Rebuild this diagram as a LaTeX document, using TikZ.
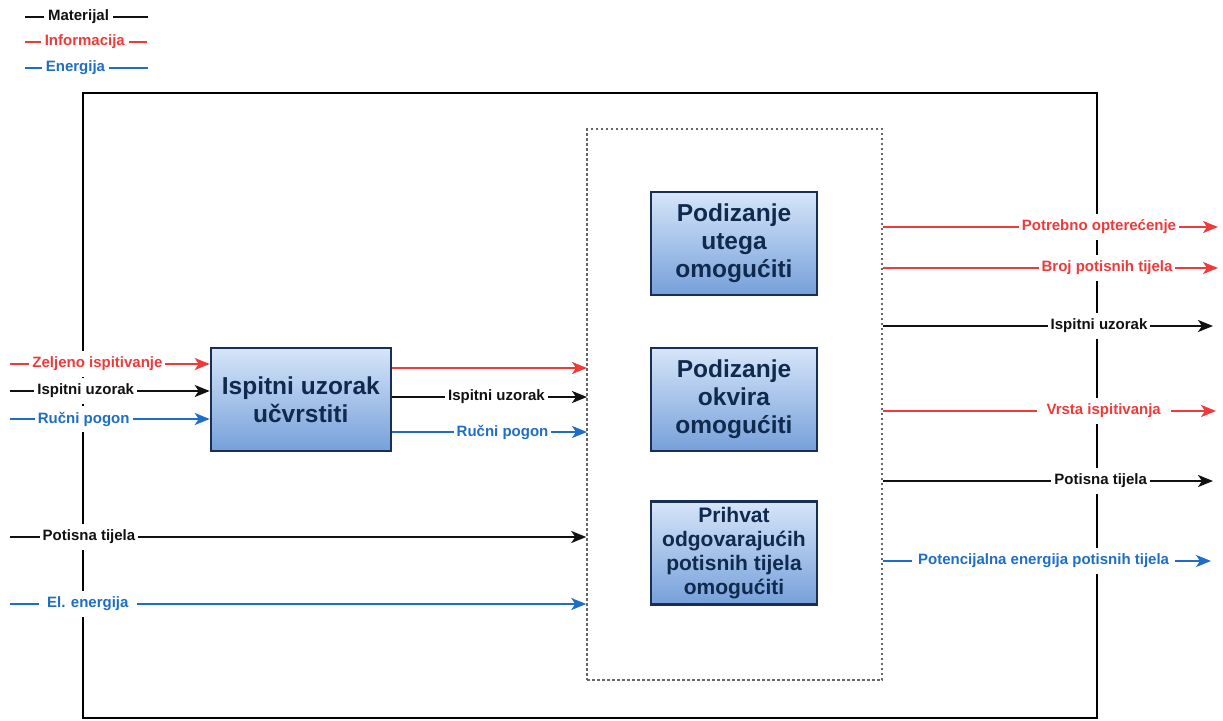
\documentclass[tikz,border=0pt]{standalone}
\usepackage{fontspec}
\setmainfont{Liberation Sans}
\usetikzlibrary{positioning,arrows.meta}

\definecolor{matcol}{HTML}{111111}
\definecolor{infcol}{HTML}{F03A3A}
\definecolor{encol}{HTML}{1E6EC8}
\definecolor{blktext}{HTML}{102A4E}
\definecolor{blkline}{HTML}{172F52}
\definecolor{blktop}{HTML}{D6E5F9}
\definecolor{blkbot}{HTML}{76A0DA}

\begin{document}
\begin{tikzpicture}[x=1pt, y=-1pt,
blocknode/.style={draw=blkline, line width=2.2pt, top color=blktop, bottom color=blkbot, text=blktext, align=center, minimum width=166pt, minimum height=103pt, inner sep=2pt, font=\bfseries\fontsize{24.5}{28}\selectfont},
flowlbl/.style={fill=white, inner xsep=3pt, inner ysep=0pt, minimum height=26pt, font=\bfseries\fontsize{15}{18}\selectfont},
leglbl/.style={fill=white, inner xsep=4pt, inner ysep=1pt, font=\bfseries\fontsize{15}{18}\selectfont},
mat/.style={draw=matcol, text=matcol, line width=2.2pt},
inf/.style={draw=infcol, text=infcol, line width=2.2pt},
en/.style={draw=encol, text=encol, line width=2.2pt},
flow/.style={-{Stealth[length=15pt, width=12pt, inset=4pt]}}
]
    \useasboundingbox (0,0) rectangle (1223,720);

    %Legend
    \coordinate (lgMa) at (25,17);  \coordinate (lgMb) at (148,17);
    \coordinate (lgIa) at (25,42);  \coordinate (lgIb) at (147,42);
    \coordinate (lgEa) at (25,68);  \coordinate (lgEb) at (148,68);
    \draw[mat] (lgMa) -- node[leglbl, pos=0.435] {Materijal} (lgMb);
    \draw[inf] (lgIa) -- node[leglbl, pos=0.49] {Informacija} (lgIb);
    \draw[en]  (lgEa) -- node[leglbl, pos=0.41] {Energija} (lgEb);

    %Nodes
    \node[draw=black, line width=2.4pt, minimum width=1014pt, minimum height=625pt, inner sep=0pt]
        (sys)                   at (590,405.5) {};
    \node[draw=black!60, line width=1.5pt, dash pattern=on 2.5pt off 2.5pt, minimum width=295pt, minimum height=551pt, inner sep=0pt]
        (sub)                   at (734.5,404.5) {};
    \node[blocknode]
        (blkLift)               at (734,243.5) {Podizanje\\utega\\omogućiti};
    \node[blocknode]
        (blkFrame)  [below=51pt of blkLift]     {Podizanje\\okvira\\omogućiti};
    \node[blocknode, inner ysep=0pt, font=\bfseries\fontsize{21}{24}\selectfont]
        (blkAccept) [below=48pt of blkFrame]    {Prihvat\\odgovarajućih\\potisnih tijela\\omogućiti};
    \node[blocknode, minimum width=180pt]
        (blkFix)    [left=258pt of blkFrame]    {Ispitni uzorak\\učvrstiti};

    %Free ends
    \coordinate (iZel) at (10,364);
    \coordinate (iUz)  at (10,391);
    \coordinate (iRp)  at (10,419);
    \coordinate (iPt)  at (10,537);
    \coordinate (iEl)  at (10,604);
    \coordinate (mInf) at (587,368);
    \coordinate (mUz)  at (587,397);
    \coordinate (mRp)  at (587,432);
    \coordinate (oPo)  at (1218,227);
    \coordinate (oBr)  at (1218,268);
    \coordinate (oUz)  at (1213,326);
    \coordinate (oVr)  at (1216,411);
    \coordinate (oPt)  at (1213,481);
    \coordinate (oEn)  at (1211,561);

    %Lines in
    \draw[inf, flow] (iZel) -- node[flowlbl, pos=0.438] {Zeljeno ispitivanje} (blkFix.west |- iZel);
    \draw[mat, flow] (iUz) -- node[flowlbl, pos=0.379] {Ispitni uzorak} (blkFix.west |- iUz);
    \draw[en, flow]  (iRp) -- node[flowlbl, pos=0.369] {Ručni pogon} (blkFix.west |- iRp);
    \draw[mat, flow] (iPt) -- node[flowlbl, pos=0.137] {Potisna tijela} (sub.west |- iPt);
    \draw[en, flow]  (iEl) -- node[flowlbl, pos=0.135, inner xsep=8pt] {El. energija} (sub.west |- iEl);

    %Lines between
    \draw[inf, flow] (blkFix.east |- mInf) -- (mInf);
    \draw[mat, flow] (blkFix.east |- mUz) -- node[flowlbl, pos=0.536] {Ispitni uzorak} (mUz);
    \draw[en, flow]  (blkFix.east |- mRp) -- node[flowlbl, pos=0.567] {Ručni pogon} (mRp);

    %Lines out
    \draw[inf, flow] (sub.east |- oPo) -- node[flowlbl, pos=0.645] {Potrebno opterećenje} (oPo);
    \draw[inf, flow] (sub.east |- oBr) -- node[flowlbl, pos=0.669] {Broj potisnih tijela} (oBr);
    \draw[mat, flow] (sub.east |- oUz) -- node[flowlbl, pos=0.655] {Ispitni uzorak} (oUz);
    \draw[inf, flow] (sub.east |- oVr) -- node[flowlbl, pos=0.663, inner xsep=10pt] {Vrsta ispitivanja} (oVr);
    \draw[mat, flow] (sub.east |- oPt) -- node[flowlbl, pos=0.66] {Potisna tijela} (oPt);
    \draw[en, flow]  (sub.east |- oEn) -- node[flowlbl, pos=0.49, inner xsep=6pt] {Potencijalna energija potisnih tijela} (oEn);
\end{tikzpicture}
\end{document}
